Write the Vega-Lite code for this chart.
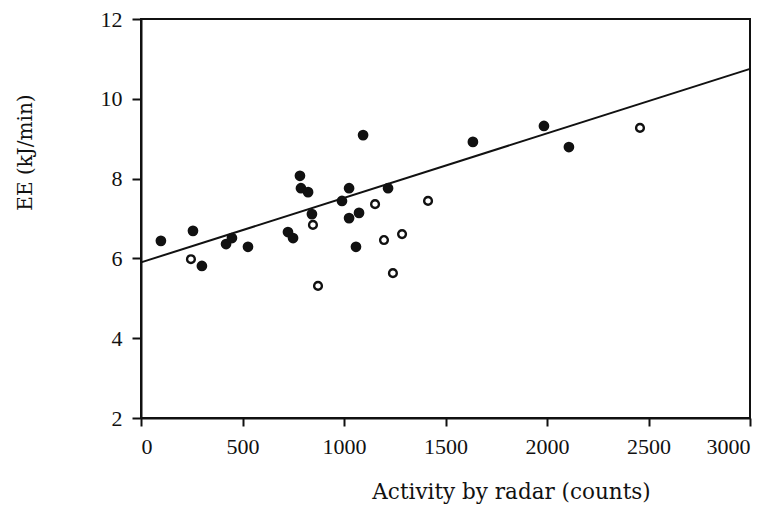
{
  "$schema": "https://vega.github.io/schema/vega-lite/v6.json",
  "autosize": "none",
  "width": 609,
  "height": 399,
  "padding": {"left": 141, "top": 19, "right": 25, "bottom": 90},
  "background": "white",
  "config": {
    "view": {"stroke": "#111", "strokeWidth": 2},
    "font": "Liberation Serif",
    "axis": {
      "domainColor": "#111", "domainWidth": 2,
      "tickColor": "#111", "tickWidth": 2,
      "labelFont": "Liberation Serif", "labelFontSize": 22, "labelColor": "#111",
      "titleFont": "DejaVu Serif", "titleFontWeight": "normal", "titleColor": "#111",
      "grid": false
    }
  },
  "datasets": {
    "points": [
      {"counts": 98, "ee": 6.44, "group": "filled"},
      {"counts": 256, "ee": 6.69, "group": "filled"},
      {"counts": 300, "ee": 5.81, "group": "filled"},
      {"counts": 419, "ee": 6.36, "group": "filled"},
      {"counts": 448, "ee": 6.51, "group": "filled"},
      {"counts": 527, "ee": 6.29, "group": "filled"},
      {"counts": 724, "ee": 6.66, "group": "filled"},
      {"counts": 749, "ee": 6.51, "group": "filled"},
      {"counts": 783, "ee": 8.07, "group": "filled"},
      {"counts": 788, "ee": 7.76, "group": "filled"},
      {"counts": 823, "ee": 7.66, "group": "filled"},
      {"counts": 842, "ee": 7.11, "group": "filled"},
      {"counts": 990, "ee": 7.44, "group": "filled"},
      {"counts": 1025, "ee": 7.76, "group": "filled"},
      {"counts": 1025, "ee": 7.01, "group": "filled"},
      {"counts": 1074, "ee": 7.14, "group": "filled"},
      {"counts": 1059, "ee": 6.29, "group": "filled"},
      {"counts": 1094, "ee": 9.09, "group": "filled"},
      {"counts": 1217, "ee": 7.76, "group": "filled"},
      {"counts": 1635, "ee": 8.92, "group": "filled"},
      {"counts": 1985, "ee": 9.32, "group": "filled"},
      {"counts": 2108, "ee": 8.79, "group": "filled"},
      {"counts": 246, "ee": 5.98, "group": "open"},
      {"counts": 872, "ee": 5.31, "group": "open"},
      {"counts": 847, "ee": 6.84, "group": "open"},
      {"counts": 1153, "ee": 7.36, "group": "open"},
      {"counts": 1414, "ee": 7.44, "group": "open"},
      {"counts": 1197, "ee": 6.46, "group": "open"},
      {"counts": 1286, "ee": 6.61, "group": "open"},
      {"counts": 1241, "ee": 5.63, "group": "open"},
      {"counts": 2458, "ee": 9.27, "group": "open"}
    ],
    "fit": [
      {"counts": 0, "ee": 5.9},
      {"counts": 3000, "ee": 10.75}
    ]
  },
  "layer": [
    {
      "data": {"name": "fit"},
      "mark": {"type": "line", "color": "#111", "strokeWidth": 2},
      "encoding": {
        "x": {"field": "counts", "type": "quantitative", "scale": {"domain": [0, 3000]},
          "axis": {"values": [0, 500, 1000, 1500, 2000, 2500, 3000], "format": "d", "title": "Activity by radar (counts)",
            "tickSize": 8, "labelPadding": 10, "titleFontSize": 21.5,
            "titleX": 370, "titleY": 80, "titleBaseline": "alphabetic"}},
        "y": {"field": "ee", "type": "quantitative", "scale": {"domain": [2, 12]},
          "axis": {"values": [2, 4, 6, 8, 10, 12], "format": "d", "title": "EE (kJ/min)",
            "tickSize": 9, "labelPadding": 10, "titleFontSize": 20,
            "titleX": -116, "titleY": 133, "titleAngle": 270, "titleAlign": "center", "titleBaseline": "middle"}}
      }
    },
    {
      "data": {"name": "points"},
      "transform": [{"filter": "datum.group === 'filled'"}],
      "mark": {"type": "point", "shape": "circle", "filled": true, "color": "#111", "opacity": 1, "size": 115},
      "encoding": {
        "x": {"field": "counts", "type": "quantitative"},
        "y": {"field": "ee", "type": "quantitative"}
      }
    },
    {
      "data": {"name": "points"},
      "transform": [{"filter": "datum.group === 'open'"}],
      "mark": {"type": "point", "shape": "circle", "filled": false, "color": "#111", "opacity": 1, "size": 60, "strokeWidth": 2.4, "fill": "white", "fillOpacity": 1},
      "encoding": {
        "x": {"field": "counts", "type": "quantitative"},
        "y": {"field": "ee", "type": "quantitative"}
      }
    }
  ]
}
